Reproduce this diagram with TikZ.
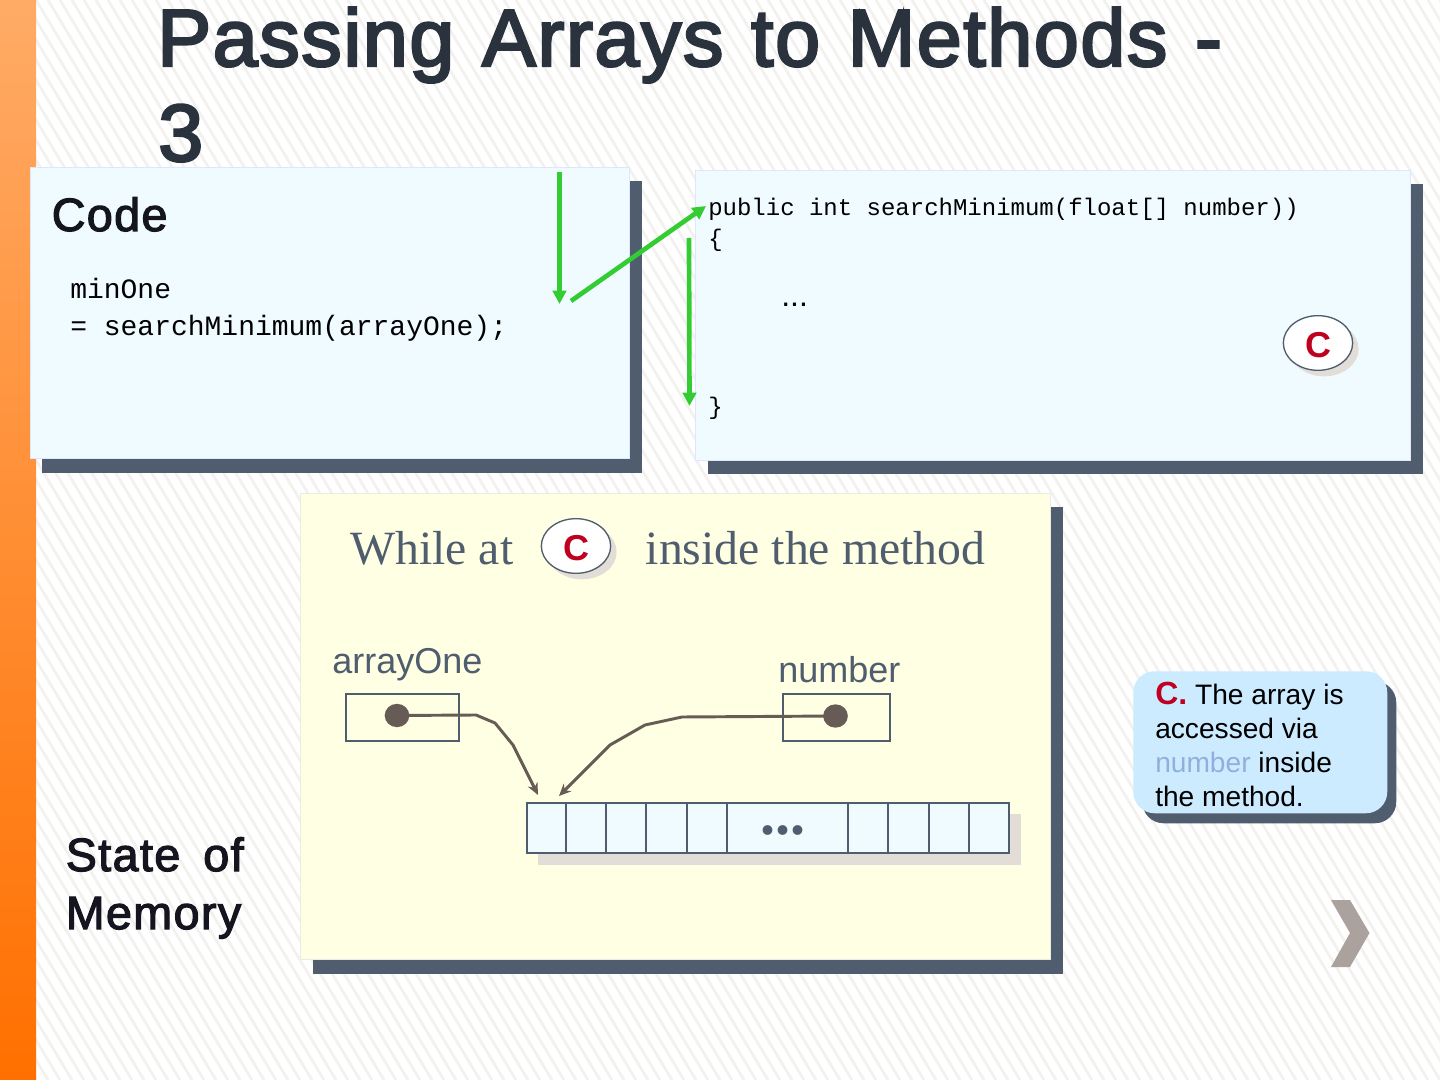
\documentclass[tikz,border=0pt]{standalone}
\usepackage{fontspec}
\setmainfont{Liberation Sans}
\newfontfamily\serifface{Liberation Serif}
\newfontfamily\codeface{Liberation Mono}
\newfontfamily\titleface[FakeBold=3,LetterSpace=1.9,WordSpace=1.15]{Liberation Sans}
\newfontfamily\headface[FakeBold=2.5,LetterSpace=3,WordSpace=1.6]{Liberation Sans}
\usetikzlibrary{arrows.meta,positioning,shapes.geometric,shadows}
\definecolor{slate}{HTML}{4F5D6E}
\definecolor{codeblue}{HTML}{F0FBFF}
\definecolor{memyellow}{HTML}{FFFFE3}
\definecolor{noteblue}{HTML}{CCEBFF}
\definecolor{arrowgreen}{HTML}{33CC33}
\definecolor{pointer}{HTML}{665C55}
\definecolor{softshadow}{HTML}{E3DDD8}
\definecolor{badgered}{HTML}{C00020}
\definecolor{hatch}{HTML}{F3F1EE}
\definecolor{titleink}{HTML}{29323D}
\definecolor{headink}{HTML}{15151F}
\definecolor{numberblue}{HTML}{8FB0DD}
\definecolor{chevron}{HTML}{ABA29D}
\definecolor{bartop}{HTML}{FFAB66}
\definecolor{barbottom}{HTML}{FF7000}

\begin{document}
\begin{tikzpicture}[
    x=0.75pt, y=-0.75pt,
    panel/.style 2 args={draw=#1!92!blue, fill=#1, anchor=north west, inner sep=0pt, line width=0.75pt,
        copy shadow={shadow xshift=#2, shadow yshift=-10.5pt, fill=slate, draw=none}},
    codetxt/.style={anchor=base west, inner sep=0pt, font=\codeface\fontsize{18}{18}\selectfont},
    heading/.style={anchor=base west, inner sep=0pt, text=headink, font=\headface\fontsize{35}{43.5}\selectfont},
    badge/.style={ellipse, draw=slate, line width=1pt, fill=white, minimum width=52pt, minimum height=41pt, inner sep=0pt,
        text=badgered, text height=22pt, font=\bfseries\fontsize{27}{27}\selectfont,
        copy shadow={shadow xshift=4.5pt, shadow yshift=-4.5pt, fill=softshadow, draw=none}},
    flow/.style={-{Triangle[length=10pt,width=10pt]}, arrowgreen, line width=3.5pt},
    cell/.style={draw=slate, fill=codeblue, anchor=north west, line width=1.2pt, minimum height=37.5pt, inner sep=0pt},
    varbox/.style={draw=slate, anchor=north west, line width=1.5pt, inner sep=0pt, minimum height=35.5pt},
    varname/.style={anchor=base west, inner sep=0pt, text=slate, font=\fontsize{27}{27}\selectfont},
    refdot/.style={ellipse, fill=pointer, minimum width=18.5pt, minimum height=17.5pt, inner sep=0pt},
    refline/.style={-{Stealth[length=9pt,width=8pt]}, pointer, line width=2.2pt}
]
\useasboundingbox (0,0) rectangle (1440,1080);

% Background
\fill[white] (0,0) rectangle (1440,1080);
\begin{scope}
    \clip (36,0) rectangle (1440,1080);
    \foreach \i in {-60,...,130}
        \draw[hatch, line width=2pt] (\i*12,0) -- ++(648,1080);
\end{scope}
\fill[top color=bartop, bottom color=barbottom] (0,0) rectangle (36,1080);

% Title
\node[anchor=base west, inner sep=0pt, text=titleink, font=\titleface\fontsize{60.7}{71}\selectfont] (title) at (157,66) {Passing Arrays to Methods -};
\node[anchor=base west, inner sep=0pt, text=titleink, font=\titleface\fontsize{60.7}{71}\selectfont] (titlenum) at (158,161) {3};

% Panels
\node[panel={codeblue}{8.8pt}, minimum width=449.5pt, minimum height=218.5pt] (codebox) at (30,167) {};
\node[panel={codeblue}{9pt}, minimum width=536.5pt, minimum height=217.5pt] (methodbox) at (695,170) {};
\node[panel={memyellow}{9.3pt}, minimum width=562.5pt, minimum height=349.5pt] (membox) at (300,493) {};

% Code panel
\node[heading] (codelabel) at (51.5,231) {Code};
\node[codetxt, font=\codeface\fontsize{21}{21}\selectfont] (callone) at (70,299) {minOne};
\node[codetxt, font=\codeface\fontsize{21}{21}\selectfont] (calltwo) at (70,336) {= searchMinimum(arrayOne);};

% Method panel
\node[codetxt] (sig) at (708,216) {public int searchMinimum(float[] number))};
\node[codetxt] (open) at (708,247) {\{};
\node[anchor=base west, inner sep=0pt, font=\fontsize{24}{24}\selectfont] (dots) at (781,307) {...};
\node[codetxt] (close) at (708,415) {\}};
\node[badge] (badgeone) at (1318,343) {C};

% Flow of control
\coordinate (a1) at (559.5,172);
\coordinate (a2) at (559.5,304);
\coordinate (b1) at (571,301);
\coordinate (b2) at (706,206);
\coordinate (c1) at (689,238);
\coordinate (c2) at (689.5,406);
\draw[flow] (a1) -- (a2);
\draw[flow] (b1) -- (b2);
\draw[flow] (c1) -- (c2);

% Memory panel
\node[anchor=base west, inner sep=0pt, text=slate, font=\serifface\fontsize{35.8}{36}\selectfont] (whileat) at (350,565) {While at};
\node[badge] (badgetwo) at (576,546) {C};
\node[anchor=base west, inner sep=0pt, text=slate, font=\serifface\fontsize{35.8}{36}\selectfont] (inside) at (645.5,565) {inside the method};
\node[varname] (arrayname) at (332,673) {arrayOne};
\node[varname] (numbername) at (778,682) {number};
\node[varbox, minimum width=85pt] (arraybox) at (345,693) {};
\node[varbox, minimum width=80.5pt] (numberbox) at (782,693) {};
\node[refdot] (arraydot) at (397,715.5) {};
\node[refdot] (numberdot) at (835.5,716) {};

% Array
\fill[softshadow] (538,814) rectangle (1021,865);
\foreach \n/\l/\r in {1/527/566,2/566/606,3/606/646,4/646/687,5/687/727,6/727/848,7/848/888,8/888/929,9/929/969,10/969/1009}
    \node[cell, minimum width={(\r-\l)*0.75pt}] (cell\n) at (\l-1,802) {};
\node[anchor=base, inner sep=0pt, text=slate, font=\serifface\bfseries\fontsize{45}{45}\selectfont] (gap) at (782.5,834) {...};

\coordinate (tipa) at (538,795);
\coordinate (tipb) at (559,796);
\draw[refline] (arraydot.center) -- (476,715) -- (495,723) -- (513,745) -- (tipa);
\draw[refline] (numberdot.center) -- (682,717) -- (645,725) -- (610,745) -- (tipb);

% State label
\node[heading, anchor=north west, align=left] (state) at (65.5,837) {State of\\Memory};

% Note
\node[draw=none, fill=noteblue, anchor=north west, inner sep=0pt, rounded corners=16pt, minimum width=190.5pt, minimum height=106.5pt,
    copy shadow={shadow xshift=6.75pt, shadow yshift=-7.5pt, fill=slate, draw=none}] (note) at (1133,671) {};
\node[anchor=north west, inner sep=0pt, align=left, font=\fontsize{21.1}{25.5}\selectfont] (notetxt) at (1155,682)
    {{\bfseries\fontsize{24}{25.5}\selectfont\textcolor{badgered}{C.}} The array is\\accessed via\\\textcolor{numberblue}{number} inside\\the method.};

% Next
\fill[chevron] (1331,900) -- (1350,900) -- (1369.5,933) -- (1350,967) -- (1331,967) -- (1350,933) -- cycle;
\end{tikzpicture}
\end{document}
